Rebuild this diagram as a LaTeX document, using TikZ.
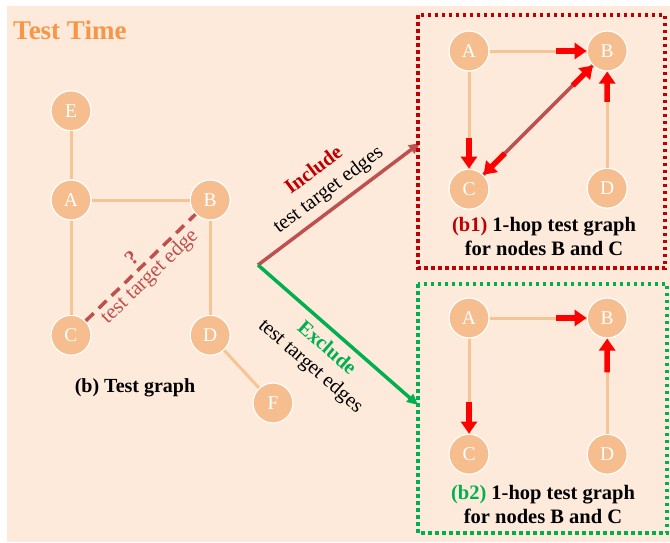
\documentclass[tikz,border=0pt]{standalone}
\usepackage{fontspec}
\setmainfont{Liberation Serif}
\usepackage{xcolor}
\usepackage{tikz}
\usetikzlibrary{arrows.meta,positioning,calc}
\definecolor{bgpeach}{RGB}{253,234,218}
\definecolor{vertfill}{RGB}{246,190,142}
\definecolor{linkorange}{RGB}{247,196,152}
\definecolor{titleorange}{RGB}{247,150,70}
\definecolor{inclred}{RGB}{192,80,77}
\definecolor{darkred}{RGB}{192,0,0}
\definecolor{exclgreen}{RGB}{0,176,80}
\tikzset{
  vert/.style={circle, fill=vertfill, draw=white, line width=1.2pt,
               minimum size=40pt, inner sep=0pt, text=white,
               font=\fontsize{19.5}{19.5}\selectfont},
  link/.style={linkorange, line width=3pt},
  hit/.style={-{Triangle[length=12pt,width=16pt]}, red, line width=5.5pt},
  pair/.style={inclred, line width=3.5pt},
  target/.style={inclred, line width=3.5pt, dash pattern=on 11pt off 7pt},
  flow/.style={-{Triangle[length=11pt,width=10pt]}, line width=3.5pt},
  lbl/.style={font=\fontsize{20.5}{24}\selectfont, align=center, inner sep=2pt, text=black},
  caplbl/.style={font=\fontsize{20.5}{24}\selectfont\bfseries, align=center, inner sep=0pt},
  frame/.style={line width=3.5pt, dash pattern=on 3.5pt off 3.5pt},
}

\begin{document}
\begin{tikzpicture}[x=1pt,y=-1pt]
  \useasboundingbox (0,0) rectangle (670,542);
  \fill[bgpeach] (7,6) rectangle (670,542);
  \node[font=\fontsize{27}{27}\selectfont\bfseries, text=titleorange,
        anchor=base west, inner sep=0pt] (title) at (13,39) {Test Time};

  % test graph
  \node[vert] (A) at (71,200) {A};
  \node[vert, above=48pt of A] (E) {E};
  \node[vert, right=98pt of A] (B) {B};
  \node[vert, below=94pt of A] (C) {C};
  \node[vert, below=94pt of B] (D) {D};
  \node[vert] (F) at (273,403) {F};
  \draw[link] (E) -- (A);
  \draw[link] (A) -- (B);
  \draw[link] (A) -- (C);
  \draw[link] (B) -- (D);
  \draw[link] (D) -- (F);
  \draw[target] (C) -- node[lbl, sloped, above=2pt, text=inclred, font=\fontsize{21}{21}\selectfont\bfseries] {?}
                       node[lbl, sloped, below, text=inclred, font=\fontsize{21}{21}\selectfont] {test target edge} (B);
  \node[caplbl, font=\fontsize{20}{24}\selectfont\bfseries] (testcap) at (135,388) {(b) Test graph};

  % include / exclude
  \coordinate (split) at (258,265);
  \coordinate (inc) at (420,143);
  \coordinate (exc) at (418,405);
  \draw[flow, inclred] (split) -- node[lbl, sloped, above=4pt]
    {\textcolor{darkred}{\textbf{Include}}\\test target edges} (inc);
  \draw[flow, exclgreen] (split) -- node[lbl, sloped, below=5pt]
    {\textcolor{exclgreen}{\textbf{Exclude}}\\test target edges} (exc);

  % b1
  \node[vert] (A1) at (469,51) {A};
  \node[vert, right=97pt of A1] (B1) {B};
  \node[vert, below=97pt of A1] (C1) {C};
  \node[vert, below=96pt of B1] (D1) {D};
  \draw[link] (A1) -- (B1);
  \draw[link] (A1) -- (C1);
  \draw[link] (D1) -- (B1);
  \draw[pair] (C1) -- (B1);
  \draw[hit] ($(A1)!0.63!(B1)$) -- (B1);
  \draw[hit] ($(A1)!0.63!(C1)$) -- (C1);
  \draw[hit] ($(D1)!0.63!(B1)$) -- (B1);
  \draw[hit] ($(C1)!0.26!(B1)$) -- (C1);
  \draw[hit] ($(B1)!0.25!(C1)$) -- (B1);
  \node[caplbl] (cap1) at (544,236) {\textcolor{darkred}{(b1)} 1-hop test graph\\for nodes B and C};
  \draw[frame, darkred] (418,15) rectangle (665,268);

  % b2
  \node[vert] (A2) at (469,318) {A};
  \node[vert, right=97pt of A2] (B2) {B};
  \node[vert, below=95pt of A2] (C2) {C};
  \node[vert, below=95pt of B2] (D2) {D};
  \draw[link] (A2) -- (B2);
  \draw[link] (A2) -- (C2);
  \draw[link] (D2) -- (B2);
  \draw[hit] ($(A2)!0.63!(B2)$) -- (B2);
  \draw[hit] ($(A2)!0.62!(C2)$) -- (C2);
  \draw[hit] ($(D2)!0.6!(B2)$) -- (B2);
  \node[caplbl] (cap2) at (543,504) {\textcolor{exclgreen}{(b2)} 1-hop test graph\\for nodes B and C};
  \draw[frame, exclgreen] (418,284) rectangle (667,533);
\end{tikzpicture}
\end{document}
